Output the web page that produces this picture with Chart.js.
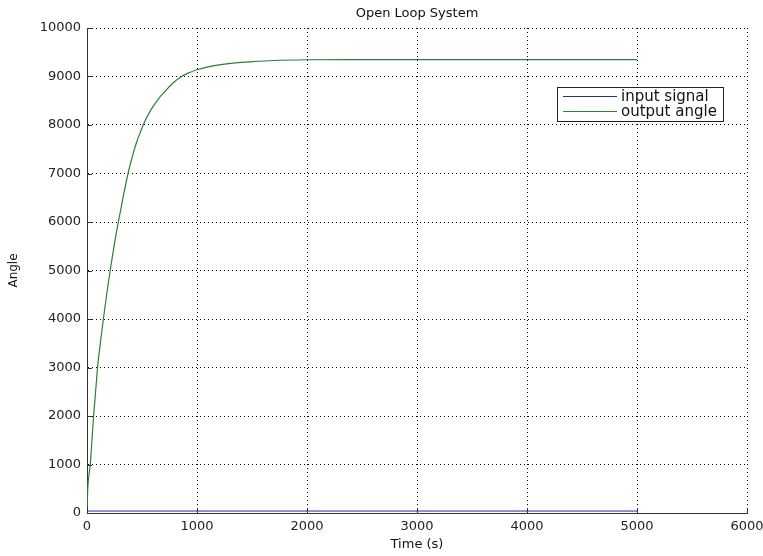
<!DOCTYPE html>
<html lang="en">
<head>
    <meta charset="UTF-8">
    <title>Open Loop System</title>
    <style>
        body {
            margin: 0;
            padding: 0;
            background: #fff;
        }
        #wrap {
            width: 763px;
            height: 556px;
        }
    </style>
    <script src="https://cdn.jsdelivr.net/npm/chart.js"></script>
</head>
<body>
    <div id="wrap"><canvas id="openLoop" width="763" height="556"></canvas></div>

    <script>
        // values
        const timeS = [0, 5, 10, 20, 30, 45, 60, 80, 96, 120, 150, 180, 210, 250, 285, 330, 373, 410, 450, 490, 527, 565, 600, 650, 700, 770, 845, 920, 1000, 1100, 1200, 1350, 1500, 1700, 2000, 2500, 3000, 4000, 5000];
        const outputAngle = [130, 400, 620, 820, 1000, 1500, 2000, 2550, 3000, 3480, 4020, 4520, 4990, 5560, 6000, 6530, 7000, 7330, 7640, 7880, 8080, 8250, 8380, 8540, 8670, 8840, 8980, 9070, 9140, 9200, 9240, 9280, 9305, 9330, 9345, 9350, 9350, 9350, 9350];
        const inputTime = [0, 5000];
        const inputSignal = [40, 40];
        const xTicks = [0, 1000, 2000, 3000, 4000, 5000, 6000];
        const yTicks = [0, 1000, 2000, 3000, 4000, 5000, 6000, 7000, 8000, 9000, 10000];

        const FONT = "'DejaVu Sans', sans-serif";

        function toPoints(xs, ys) {
            return xs.map((x, i) => ({ x: x, y: ys[i] }));
        }

        // MATLAB style inward ticks on left and bottom axes
        const inwardTicks = {
            id: 'inwardTicks',
            afterDraw(chart) {
                const { ctx, chartArea, scales } = chart;
                ctx.save();
                ctx.strokeStyle = '#333';
                ctx.lineWidth = 1;
                ctx.beginPath();
                xTicks.forEach(v => {
                    const px = Math.round(scales.x.getPixelForValue(v)) + 0.5;
                    ctx.moveTo(px, chartArea.bottom);
                    ctx.lineTo(px, chartArea.bottom - 5);
                });
                yTicks.forEach(v => {
                    const py = Math.round(scales.y.getPixelForValue(v)) + 0.5;
                    ctx.moveTo(chartArea.left, py);
                    ctx.lineTo(chartArea.left + 5, py);
                });
                ctx.stroke();
                ctx.restore();
            }
        };

        // boxed legend inside the plot, like the original figure
        const boxLegend = {
            id: 'boxLegend',
            afterDraw(chart) {
                const ctx = chart.ctx;
                const sets = chart.data.datasets;
                const bx = 557.5, by = 87.5, bw = 166, bh = 34;
                ctx.save();
                ctx.fillStyle = '#fff';
                ctx.fillRect(bx, by, bw, bh);
                ctx.strokeStyle = '#222';
                ctx.lineWidth = 1;
                ctx.strokeRect(bx, by, bw, bh);
                ctx.font = '15px ' + FONT;
                ctx.textBaseline = 'middle';
                sets.forEach((ds, i) => {
                    const y = 96.5 + i * 15;
                    ctx.strokeStyle = ds.borderColor;
                    ctx.beginPath();
                    ctx.moveTo(563, y);
                    ctx.lineTo(617, y);
                    ctx.stroke();
                    ctx.fillStyle = '#111';
                    ctx.fillText(ds.label, 621, y + 1);
                });
                ctx.restore();
            }
        };

        function renderChart() {
            const ctx = document.getElementById('openLoop').getContext('2d');
            new Chart(ctx, {
                type: 'line',
                data: {
                    datasets: [
                        {
                            label: 'input signal',
                            data: toPoints(inputTime, inputSignal),
                            borderColor: '#2a2a9c',
                            borderWidth: 1,
                            pointRadius: 0,
                            tension: 0
                        },
                        {
                            label: 'output angle',
                            data: toPoints(timeS, outputAngle),
                            borderColor: '#2b7f3b',
                            borderWidth: 1.2,
                            pointRadius: 0,
                            cubicInterpolationMode: 'monotone'
                        }
                    ]
                },
                options: {
                    responsive: false,
                    animation: false,
                    layout: { padding: { top: 0, right: 0, left: 0, bottom: 0 } },
                    plugins: {
                        legend: { display: false },
                        tooltip: { enabled: false },
                        title: {
                            display: true,
                            text: 'Open Loop System',
                            fullSize: false,
                            color: '#111',
                            font: { family: FONT, size: 13, weight: 'normal', lineHeight: 1.2 },
                            padding: { top: 6, bottom: 6.4 }
                        }
                    },
                    scales: {
                        x: {
                            type: 'linear',
                            min: 0,
                            max: 6000,
                            afterBuildTicks(scale) {
                                scale.ticks = xTicks.map(v => ({ value: v }));
                            },
                            afterFit(scale) {
                                scale.height = 43;
                                scale.paddingLeft = 0;
                                scale.paddingRight = 16;
                            },
                            ticks: {
                                color: '#222',
                                font: { family: FONT, size: 13 },
                                padding: 6,
                                maxRotation: 0,
                                callback: v => String(v)
                            },
                            grid: { color: '#000', lineWidth: 1, drawTicks: false },
                            border: { display: true, color: '#333', width: 1, dash: [1, 3] },
                            title: {
                                display: true,
                                text: 'Time (s)',
                                color: '#111',
                                font: { family: FONT, size: 13 },
                                padding: { top: 0, bottom: 4 }
                            }
                        },
                        y: {
                            min: 0,
                            max: 10000,
                            afterBuildTicks(scale) {
                                scale.ticks = yTicks.map(v => ({ value: v }));
                            },
                            afterFit(scale) { scale.width = 87; },
                            ticks: {
                                color: '#222',
                                font: { family: FONT, size: 13 },
                                padding: 6,
                                callback: v => String(v)
                            },
                            grid: { color: '#000', lineWidth: 1, drawTicks: false },
                            border: { display: true, color: '#333', width: 1, dash: [1, 3] },
                            title: {
                                display: true,
                                text: 'Angle',
                                color: '#111',
                                font: { family: FONT, size: 12 },
                                padding: { top: 7, bottom: 0 }
                            }
                        }
                    }
                },
                plugins: [inwardTicks, boxLegend]
            });
        }

        document.addEventListener('DOMContentLoaded', renderChart);
    </script>
</body>
</html>
